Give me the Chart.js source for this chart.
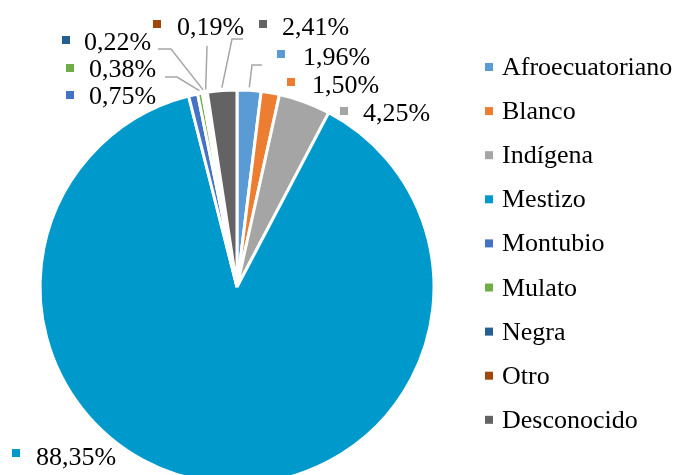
<!DOCTYPE html>
<html>
<head>
<meta charset="utf-8">
<script src="https://cdn.jsdelivr.net/npm/chart.js@4"></script>
<style>
  html, body { margin: 0; padding: 0; background: #fff; }
  #frame { width: 678px; height: 475px; overflow: hidden; position: relative; }
  #box { width: 678px; height: 580px; position: absolute; left: 0; top: 0; }
</style>
</head>
<body>
<div id="frame"><div id="box"><canvas id="pieChart"></canvas></div></div>
<script>
// Data (percent share by self-identified ethnicity)
const categories = ['Afroecuatoriano', 'Blanco', 'Indígena', 'Mestizo', 'Montubio', 'Mulato', 'Negra', 'Otro', 'Desconocido'];
const percentages = [1.96, 1.50, 4.25, 88.35, 0.75, 0.38, 0.22, 0.19, 2.41];
const sliceColors = ['#5B9BD5', '#ED7D31', '#A5A5A5', '#0099CC', '#4472C4', '#70AD47', '#255E91', '#9E480E', '#636363'];

// Where each data label sits: square centre, text left/baseline, optional leader elbow points
const LABEL_LAYOUT = [
  { sq: [281, 54], txt: [303, 65], leader: [[262, 65], [252, 65]] },
  { sq: [291, 82], txt: [312, 93], leader: null },
  { sq: [344, 111], txt: [363, 121], leader: null },
  { sq: [16, 453], txt: [36, 465], leader: null },
  { sq: [70, 95], txt: [89, 104], leader: null },
  { sq: [70, 68], txt: [89, 77], leader: [[165, 77], [177, 77]] },
  { sq: [66, 40], txt: [84, 50], leader: [[158, 49], [171, 49]] },
  { sq: [157, 24], txt: [177, 35], leader: [[207, 46]] },
  { sq: [263, 24], txt: [282, 35], leader: [[243, 39], [232, 39]] }
];

const FONT = "'Liberation Serif', 'Times New Roman', serif";
const LEADER_COLOR = '#A6A6A6';

const formatPct = (v) => v.toFixed(2).replace('.', ',') + '%';

// ============================================================
// Plugin - data labels with leader lines + right-hand legend
// ============================================================
const annotatePlugin = {
  id: 'annotate',
  afterDraw(chart) {
    const ctx = chart.ctx;
    const meta = chart.getDatasetMeta(0);
    const ds = chart.data.datasets[0];

    ctx.save();

    // leader lines
    meta.data.forEach((arc, i) => {
      const lay = LABEL_LAYOUT[i];
      if (!lay.leader) return;
      const { x, y, startAngle, endAngle, outerRadius } = arc.getProps(['x', 'y', 'startAngle', 'endAngle', 'outerRadius'], true);
      const mid = (startAngle + endAngle) / 2;
      const r = outerRadius + 3;
      ctx.beginPath();
      ctx.moveTo(lay.leader[0][0], lay.leader[0][1]);
      lay.leader.slice(1).forEach((p) => ctx.lineTo(p[0], p[1]));
      ctx.lineTo(x + Math.cos(mid) * r, y + Math.sin(mid) * r);
      ctx.strokeStyle = LEADER_COLOR;
      ctx.lineWidth = 1.5;
      ctx.stroke();
    });

    // data labels
    ctx.font = `26px ${FONT}`;
    ctx.textBaseline = 'alphabetic';
    ctx.textAlign = 'left';
    ds.data.forEach((v, i) => {
      const lay = LABEL_LAYOUT[i];
      ctx.fillStyle = ds.backgroundColor[i];
      ctx.fillRect(lay.sq[0] - 4, lay.sq[1] - 4, 8, 8);
      ctx.fillStyle = '#000';
      ctx.fillText(formatPct(v), lay.txt[0], lay.txt[1]);
    });

    // legend
    ctx.font = `26px ${FONT}`;
    chart.data.labels.forEach((label, i) => {
      const cy = 67 + i * 44.1;
      ctx.fillStyle = ds.backgroundColor[i];
      ctx.fillRect(485, cy - 4, 8, 8);
      ctx.fillStyle = '#000';
      ctx.fillText(label, 502, cy + 8);
    });

    ctx.restore();
  }
};

new Chart(document.getElementById('pieChart'), {
  type: 'pie',
  data: {
    labels: categories,
    datasets: [{
      data: percentages,
      backgroundColor: sliceColors,
      borderColor: '#fff',
      borderWidth: 3
    }]
  },
  options: {
    responsive: true,
    maintainAspectRatio: false,
    animation: false,
    radius: 197,
    layout: { padding: { left: 0, top: 0, right: 204, bottom: 6 } },
    plugins: {
      legend: { display: false },
      tooltip: { enabled: false }
    }
  },
  plugins: [annotatePlugin]
});
</script>
</body>
</html>
